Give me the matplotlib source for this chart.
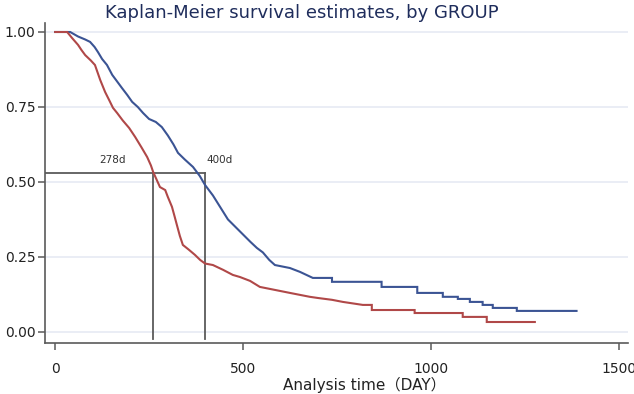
import matplotlib
matplotlib.use("Agg")
import matplotlib.pyplot as plt

# ---- data (KM curve vertices) ----
blue_days = [0, 40, 61, 80, 93, 105, 114, 125, 138, 152, 165, 178, 192, 205, 220, 234, 250,
             268, 284, 300, 315, 327, 345, 367, 385, 399, 420, 439, 460, 484, 500, 520, 537,
             553, 570, 585, 625, 652, 686, 737, 737, 869, 869, 964, 964, 1032, 1032, 1072,
             1072, 1104, 1104, 1138, 1138, 1165, 1165, 1229, 1229, 1388]
blue_surv = [1.0, 1.0, 0.985, 0.975, 0.967, 0.95, 0.933, 0.91, 0.89, 0.857, 0.835, 0.813, 0.79,
             0.767, 0.75, 0.73, 0.71, 0.70, 0.683, 0.655, 0.625, 0.597, 0.575, 0.55, 0.52, 0.49,
             0.455, 0.417, 0.375, 0.345, 0.325, 0.30, 0.28, 0.265, 0.24, 0.223, 0.213, 0.2,
             0.18, 0.18, 0.167, 0.167, 0.15, 0.15, 0.13, 0.13, 0.117, 0.117, 0.11, 0.11, 0.1,
             0.1, 0.09, 0.09, 0.08, 0.08, 0.07, 0.07]

red_days = [0, 32, 45, 61, 70, 80, 95, 106, 113, 120, 133, 145, 154, 165, 180, 197, 213, 230,
            245, 255, 261, 279, 293, 300, 311, 318, 324, 332, 340, 355, 372, 386, 399, 420,
            447, 473, 492, 519, 545, 585, 625, 678, 700, 737, 766, 819, 843, 843, 957, 957,
            1085, 1085, 1149, 1149, 1277]
red_surv = [1.0, 1.0, 0.98, 0.957, 0.94, 0.923, 0.905, 0.89, 0.865, 0.84, 0.8, 0.77, 0.747,
            0.73, 0.705, 0.68, 0.65, 0.615, 0.583, 0.555, 0.533, 0.483, 0.473, 0.45, 0.417,
            0.385, 0.357, 0.32, 0.29, 0.275, 0.257, 0.24, 0.228, 0.223, 0.207, 0.19, 0.183,
            0.17, 0.15, 0.14, 0.13, 0.117, 0.113, 0.107, 0.1, 0.09, 0.09, 0.073, 0.073, 0.063,
            0.063, 0.05, 0.05, 0.033, 0.033]

median_x = [261, 400]
median_labels = ["278d", "400d"]
median_level = 0.531

x_ticks = [0, 500, 1000, 1500]
y_ticks = [0.0, 0.25, 0.5, 0.75, 1.0]

title = "Kaplan-Meier survival estimates, by GROUP"
xlabel = "Analysis time（DAY）"

# ---- styling ----
FONT = ["DejaVu Sans", "Noto Sans CJK SC"]
plt.rcParams["font.family"] = FONT
BLUE = "#3b5494"
RED = "#b04848"
REF = "#5a5a5a"
AXC = "#5a5a5a"

W, H = 634, 394
fig = plt.figure(figsize=(W / 100, H / 100), dpi=100)
left, right, bottom, top = 45, 628, 343, 23
ax = fig.add_axes([left / W, 1 - bottom / H, (right - left) / W, (bottom - top) / H])

ax.set_xlim(-27, 1525)
ax.set_ylim(-0.037, 1.03)

for y in y_ticks:
    ax.axhline(y, color="#e6eaf3", lw=1.2, zorder=0)

ax.plot(blue_days, blue_surv, color=BLUE, lw=1.5, zorder=3, solid_joinstyle="miter")
ax.plot(red_days, red_surv, color=RED, lw=1.5, zorder=3, solid_joinstyle="miter")

# median reference lines
ax.plot([-27, median_x[1]], [median_level, median_level], color=REF, lw=1.3, zorder=2)
for mx in median_x:
    ax.plot([mx, mx], [median_level, -0.023], color=REF, lw=1.3, zorder=2)
ax.text(median_x[0] - 107, median_level + 0.043, median_labels[0], fontsize=7.5,
        color="#333333", ha="center", va="center")
ax.text(median_x[1] + 38, median_level + 0.043, median_labels[1], fontsize=7.5,
        color="#333333", ha="center", va="center")

for s in ["top", "right"]:
    ax.spines[s].set_visible(False)
for s in ["left", "bottom"]:
    ax.spines[s].set_color(AXC)
    ax.spines[s].set_linewidth(1.2)

ax.set_xticks(x_ticks)
ax.set_yticks(y_ticks)
ax.set_yticklabels([f"{v:.2f}" for v in y_ticks])
ax.tick_params(axis="y", length=5, width=1.1, color=AXC, labelsize=10, pad=2, labelcolor="#222222")
ax.tick_params(axis="x", length=5, width=1.1, color=AXC, labelsize=10, pad=9, labelcolor="#222222")

fig.text(302 / W, 1 - 13 / H, title, ha="center", va="center", fontsize=13, color="#1f2d5c")
fig.text(364 / W, 1 - 385 / H, xlabel, ha="center", va="center", fontsize=11, color="#222222")

fig.savefig("out.png", dpi=100)
